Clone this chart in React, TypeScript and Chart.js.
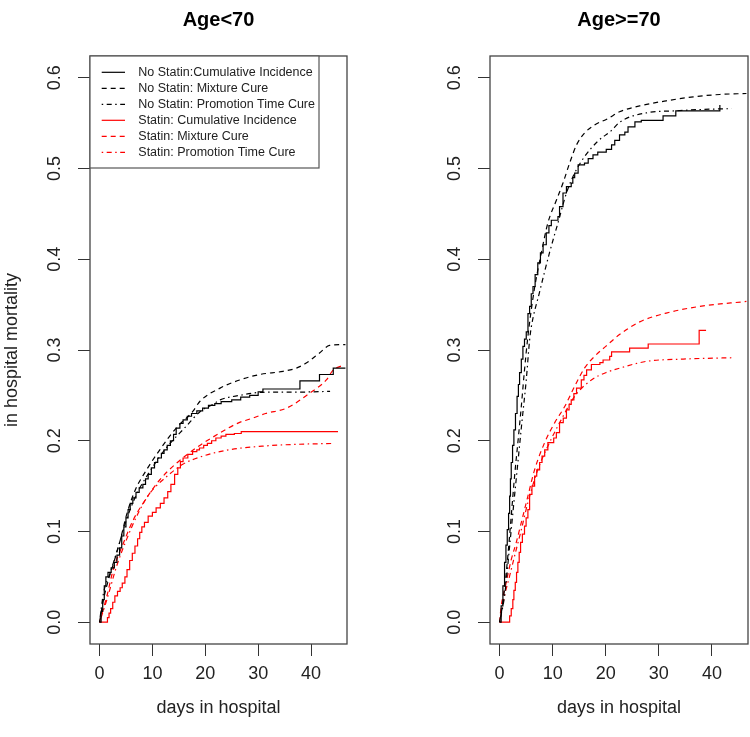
import React, { useEffect, useRef } from 'react';
import { Chart, registerables } from 'chart.js';

Chart.register(...registerables);

type Pt = [number, number];

const FONT = "'Liberation Sans', Arial, Helvetica, sans-serif";

const panelTitles = ['Age<70', 'Age>=70'];
const xAxisTitle = 'days in hospital';
const yAxisTitle = 'in hospital mortality';
const xTicks = [0, 10, 20, 30, 40];
const yTicks = [0, 0.1, 0.2, 0.3, 0.4, 0.5, 0.6];
const seriesLabels = [
  'No Statin:Cumulative Incidence',
  'No Statin: Mixture Cure',
  'No Statin: Promotion Time Cure',
  'Statin: Cumulative Incidence',
  'Statin: Mixture Cure',
  'Statin: Promotion Time Cure',
];

// ---------- Age < 70 ----------
const youngNoStatinCI: Pt[] = [
  [0, 0], [0.3, 0.012], [0.6, 0.025], [0.9, 0.04], [1.2, 0.05], [1.6, 0.055], [2.2, 0.06],
  [2.8, 0.066], [3.3, 0.074], [3.8, 0.082], [4.2, 0.095], [4.6, 0.105], [5.0, 0.115],
  [5.4, 0.124], [5.8, 0.131], [6.3, 0.137], [6.9, 0.143], [7.5, 0.148], [8.2, 0.152],
  [8.7, 0.158], [9.2, 0.163], [9.8, 0.17], [10.4, 0.176], [11.0, 0.181], [11.7, 0.186],
  [12.2, 0.19], [12.8, 0.195], [13.4, 0.2], [14.0, 0.207], [14.5, 0.214], [15.2, 0.219],
  [15.8, 0.223], [16.6, 0.227], [17.4, 0.23], [18.4, 0.233], [19.5, 0.236], [20.6, 0.239],
  [21.8, 0.241], [23.0, 0.243], [25.0, 0.245], [26.7, 0.248], [28.4, 0.25], [30.0, 0.254],
  [30.9, 0.257], [37.9, 0.266], [41.6, 0.273], [44.2, 0.28], [46.5, 0.28],
];
const youngNoStatinMix: Pt[] = [
  [0, 0], [0.75, 0.025], [1.7, 0.047], [2.6, 0.064], [3.9, 0.09], [5.1, 0.118], [6.7, 0.145],
  [8.9, 0.168], [11.4, 0.19], [14.5, 0.214], [17.6, 0.232], [19, 0.2435], [22.8, 0.258],
  [26.5, 0.267], [30.3, 0.273], [34.7, 0.2765], [37.2, 0.28], [39.1, 0.2857], [41.6, 0.2967],
  [43.5, 0.305], [46.5, 0.306],
];
const youngNoStatinPTC: Pt[] = [
  [0, 0], [0.75, 0.032], [2, 0.054], [3.6, 0.084], [5.1, 0.113], [7, 0.141], [9.5, 0.166],
  [12.6, 0.192], [16.4, 0.216], [19, 0.232], [21.4, 0.24], [22.8, 0.245], [26.5, 0.25],
  [30.9, 0.2534], [37.9, 0.2536], [43.6, 0.2545],
];
const youngStatinCI: Pt[] = [
  [0, 0], [1.25, 0], [1.5, 0.005], [1.8, 0.01], [2.1, 0.015], [2.5, 0.022], [2.9, 0.029],
  [3.4, 0.034], [3.9, 0.038], [4.3, 0.043], [4.8, 0.05], [5.2, 0.058], [5.7, 0.068],
  [6.2, 0.076], [6.7, 0.084], [7.2, 0.092], [7.6, 0.099], [8.0, 0.105], [8.5, 0.11],
  [9.2, 0.117], [10.0, 0.121], [10.7, 0.126], [11.5, 0.131], [12.2, 0.137], [12.9, 0.144],
  [13.5, 0.152], [14.2, 0.163], [14.8, 0.17], [15.3, 0.177], [15.8, 0.181], [16.7, 0.185],
  [17.6, 0.188], [18.4, 0.19], [18.9, 0.192], [19.7, 0.195], [20.4, 0.197], [21.2, 0.2],
  [22.0, 0.203], [23.0, 0.205], [23.9, 0.207], [25.5, 0.208], [26.8, 0.21], [45.1, 0.21],
];
const youngStatinMix: Pt[] = [
  [0, 0], [1.4, 0.029], [2.6, 0.058], [4.5, 0.087], [6.4, 0.113], [8.9, 0.137], [11.4, 0.157],
  [14.5, 0.175], [18.25, 0.192], [22.6, 0.208], [26.4, 0.22], [28.5, 0.224], [31.4, 0.23],
  [35.4, 0.236], [39.8, 0.2527], [42.9, 0.267], [44.2, 0.278], [46, 0.283],
];
const youngStatinPTC: Pt[] = [
  [0, 0], [1.4, 0.025], [3.25, 0.062], [5.1, 0.091], [7.3, 0.12], [9.5, 0.142], [12.6, 0.16],
  [15.75, 0.174], [19.5, 0.183], [24.5, 0.19], [30.75, 0.194], [37, 0.196], [44.2, 0.197],
];

// ---------- Age >= 70 ----------
const oldNoStatinCI: Pt[] = [
  [0, 0], [0.3, 0.018], [0.63, 0.04], [0.94, 0.066], [1.2, 0.085], [1.45, 0.102], [1.7, 0.12],
  [1.9, 0.139], [2.05, 0.158], [2.2, 0.176], [2.45, 0.195], [2.7, 0.212], [3.0, 0.23],
  [3.3, 0.249], [3.55, 0.262], [3.77, 0.275], [4.1, 0.29], [4.4, 0.304], [4.7, 0.312],
  [5.03, 0.32], [5.35, 0.34], [5.66, 0.348], [5.97, 0.362], [6.3, 0.37], [6.7, 0.383],
  [7.2, 0.396], [7.7, 0.407], [8.2, 0.416], [8.8, 0.429], [9.3, 0.437], [9.75, 0.443],
  [11.0, 0.447], [11.3, 0.458], [11.95, 0.473], [12.6, 0.48], [13.5, 0.484], [13.8, 0.49],
  [14.15, 0.495], [14.8, 0.504], [16.0, 0.506], [16.7, 0.511], [17.6, 0.515], [18.5, 0.518],
  [20.1, 0.521], [21.1, 0.526], [21.7, 0.531], [22.6, 0.537], [23.6, 0.54], [24.2, 0.546],
  [25.5, 0.5515], [26.7, 0.553], [30.8, 0.558], [33.2, 0.5636], [41.5, 0.57],
];
const oldNoStatinMix: Pt[] = [
  [0, 0], [0.63, 0.0216], [1.45, 0.066], [2.2, 0.117], [2.83, 0.161], [3.45, 0.198],
  [4.1, 0.238], [4.7, 0.278], [5.34, 0.315], [6.5, 0.365], [7.87, 0.407], [9.1, 0.44],
  [10.7, 0.465], [11.95, 0.484], [13.2, 0.506], [14.5, 0.526], [16, 0.539], [17.9, 0.548],
  [20.4, 0.555], [22.6, 0.5625], [26.4, 0.569], [31.4, 0.5746], [36.5, 0.579], [41.5, 0.5816],
  [46.5, 0.5827],
];
const oldNoStatinPTC: Pt[] = [
  [0, 0], [0.94, 0.029], [1.9, 0.084], [2.7, 0.132], [3.45, 0.176], [4.2, 0.22], [5.03, 0.267],
  [5.66, 0.311], [6.0, 0.326], [7.5, 0.363], [9.4, 0.407], [11, 0.44], [12.6, 0.473],
  [14.15, 0.495], [16, 0.513], [18.5, 0.53], [21.1, 0.542], [22.6, 0.551], [27.7, 0.5614],
  [33.3, 0.5636], [37.7, 0.565], [43.7, 0.566],
];
const oldStatinCI: Pt[] = [
  [0, 0], [1.57, 0], [1.9, 0.007], [2.2, 0.015], [2.5, 0.025], [2.7, 0.035], [2.96, 0.044],
  [3.2, 0.055], [3.45, 0.066], [3.7, 0.077], [3.96, 0.088], [4.3, 0.097], [4.7, 0.106],
  [5.0, 0.115], [5.34, 0.124], [5.66, 0.141], [6.1, 0.15], [6.6, 0.161], [7.0, 0.168],
  [7.55, 0.176], [8.0, 0.183], [8.5, 0.19], [9.1, 0.198], [10.2, 0.203], [10.7, 0.209],
  [11.3, 0.22], [12.0, 0.225], [12.6, 0.234], [13.1, 0.24], [13.5, 0.245], [14.0, 0.252],
  [14.5, 0.258], [15.4, 0.267], [15.9, 0.272], [16.4, 0.278], [17.3, 0.284], [18.9, 0.286],
  [19.5, 0.289], [20.75, 0.293], [21.1, 0.298], [24.5, 0.302], [28, 0.3066], [37.6, 0.3216],
  [38.9, 0.3216],
];
const oldStatinMix: Pt[] = [
  [0, 0], [0.32, 0.018], [1.26, 0.044], [2.2, 0.069], [3.15, 0.088], [4.1, 0.11], [5.34, 0.139],
  [6.6, 0.168], [8.5, 0.198], [10.4, 0.22], [12.3, 0.238], [14.15, 0.26], [16, 0.28],
  [17.9, 0.293], [20, 0.304], [22.6, 0.317], [26.4, 0.331], [31.4, 0.3407], [37.7, 0.348],
  [46.5, 0.3535],
];
const oldStatinPTC: Pt[] = [
  [0, 0], [0.32, 0.01], [0.94, 0.029], [1.9, 0.051], [2.83, 0.073], [4.1, 0.102], [5.34, 0.132],
  [7.2, 0.168], [9.1, 0.194], [11.6, 0.223], [14.15, 0.249], [17.3, 0.267], [20, 0.275],
  [22.6, 0.28], [27.7, 0.2875], [34.6, 0.29], [44, 0.2915],
];

const youngSeries = [youngNoStatinCI, youngNoStatinMix, youngNoStatinPTC, youngStatinCI, youngStatinMix, youngStatinPTC];
const oldSeries = [oldNoStatinCI, oldNoStatinMix, oldNoStatinPTC, oldStatinCI, oldStatinMix, oldStatinPTC];

const DASH = [5, 4];
const DOTDASH = [1.5, 3.5, 5, 3.5];
const seriesStyles = [
  { color: '#000000', dash: [] as number[], stepped: true },
  { color: '#000000', dash: DASH, stepped: false },
  { color: '#000000', dash: DOTDASH, stepped: false },
  { color: '#ff0000', dash: [] as number[], stepped: true },
  { color: '#ff0000', dash: DASH, stepped: false },
  { color: '#ff0000', dash: DOTDASH, stepped: false },
];

const boxPlugin = {
  id: 'plotBox',
  afterDraw(chart: any) {
    const { ctx, chartArea: a } = chart;
    ctx.save();
    ctx.strokeStyle = '#444';
    ctx.lineWidth = 1.3;
    ctx.strokeRect(a.left, a.top, a.right - a.left, a.bottom - a.top);
    ctx.restore();
  },
};

const legendBoxPlugin = {
  id: 'rLegend',
  afterDraw(chart: any) {
    const { ctx, chartArea: a } = chart;
    const ds = chart.data.datasets;
    ctx.save();
    ctx.fillStyle = '#fff';
    ctx.fillRect(a.left, a.top, 229, 112);
    ctx.strokeStyle = '#555';
    ctx.lineWidth = 1.2;
    ctx.strokeRect(a.left, a.top, 229, 112);
    ctx.font = `12.5px ${FONT}`;
    ctx.textBaseline = 'middle';
    ctx.textAlign = 'left';
    ds.forEach((d: any, i: number) => {
      const y = a.top + 16.3 + 16 * i;
      ctx.beginPath();
      ctx.setLineDash(d.borderDash || []);
      ctx.strokeStyle = d.borderColor;
      ctx.lineWidth = 1.2;
      ctx.moveTo(a.left + 11.7, y);
      ctx.lineTo(a.left + 35, y);
      ctx.stroke();
      ctx.setLineDash([]);
      ctx.fillStyle = '#222';
      ctx.fillText(d.label, a.left + 48.3, y);
    });
    ctx.restore();
  },
};

function Panel({ idx }: { idx: number }) {
  const ref = useRef<HTMLCanvasElement>(null);
  useEffect(() => {
    const series = idx === 0 ? youngSeries : oldSeries;
    const tickFont = { family: FONT, size: 18 };
    const chart = new Chart(ref.current as HTMLCanvasElement, {
      type: 'line',
      data: {
        datasets: series.map((pts, i) => ({
          label: seriesLabels[i],
          data: pts.map(([x, y]) => ({ x, y })),
          borderColor: seriesStyles[i].color,
          borderDash: seriesStyles[i].dash,
          borderWidth: 1.2,
          pointRadius: 0,
          fill: false,
          stepped: seriesStyles[i].stepped ? 'before' : false,
          cubicInterpolationMode: seriesStyles[i].stepped ? 'default' : 'monotone',
        })),
      } as any,
      options: {
        animation: false,
        responsive: false,
        maintainAspectRatio: false,
        layout: { padding: { left: 0, right: idx === 0 ? 28 : 2, top: 0, bottom: 0 } },
        plugins: {
          legend: { display: false },
          tooltip: { enabled: false },
          title: {
            display: true,
            text: panelTitles[idx],
            fullSize: false,
            color: '#000',
            font: { family: FONT, size: 20, weight: 'bold' },
            padding: { top: 8, bottom: 24 },
          },
        },
        scales: {
          x: {
            type: 'linear',
            min: -1.8,
            max: 46.8,
            afterBuildTicks: (s: any) => { s.ticks = xTicks.map((v) => ({ value: v })); },
            afterFit: (s: any) => { s.height = 93; },
            border: { display: false },
            grid: { drawOnChartArea: false, drawTicks: true, tickLength: 12, color: '#333', lineWidth: 1 },
            ticks: { font: tickFont, color: '#222', padding: 7, maxRotation: 0, autoSkip: false, callback: (v: any) => String(v) },
            title: { display: true, text: xAxisTitle, color: '#222', font: tickFont, padding: { top: 0, bottom: 18 } },
          },
          y: {
            type: 'linear',
            min: -0.024,
            max: 0.624,
            afterBuildTicks: (s: any) => { s.ticks = yTicks.map((v) => ({ value: v })); },
            afterFit: (s: any) => { s.width = idx === 0 ? 90 : 115; },
            border: { display: false },
            grid: { drawOnChartArea: false, drawTicks: true, tickLength: 12, color: '#333', lineWidth: 1 },
            ticks: { font: tickFont, color: '#222', padding: 10, minRotation: 90, maxRotation: 90, crossAlign: 'center', autoSkip: false, callback: (v: any) => Number(v).toFixed(1) },
            title: { display: idx === 0, text: yAxisTitle, color: '#222', font: tickFont, padding: { top: 1.2, bottom: 0 } },
          },
        },
      } as any,
      plugins: idx === 0 ? [boxPlugin, legendBoxPlugin] : [boxPlugin],
    });
    return () => chart.destroy();
  }, [idx]);
  return (
    <canvas
      ref={ref}
      width={375}
      height={737}
      style={{ position: 'absolute', left: idx === 0 ? 0 : 375, top: 0, width: 375, height: 737, display: 'block' }}
    />
  );
}

export default function App() {
  return (
    <div style={{ position: 'absolute', left: 0, top: 0, width: 750, height: 737, background: '#fff', overflow: 'hidden' }}>
      <Panel idx={0} />
      <Panel idx={1} />
    </div>
  );
}
